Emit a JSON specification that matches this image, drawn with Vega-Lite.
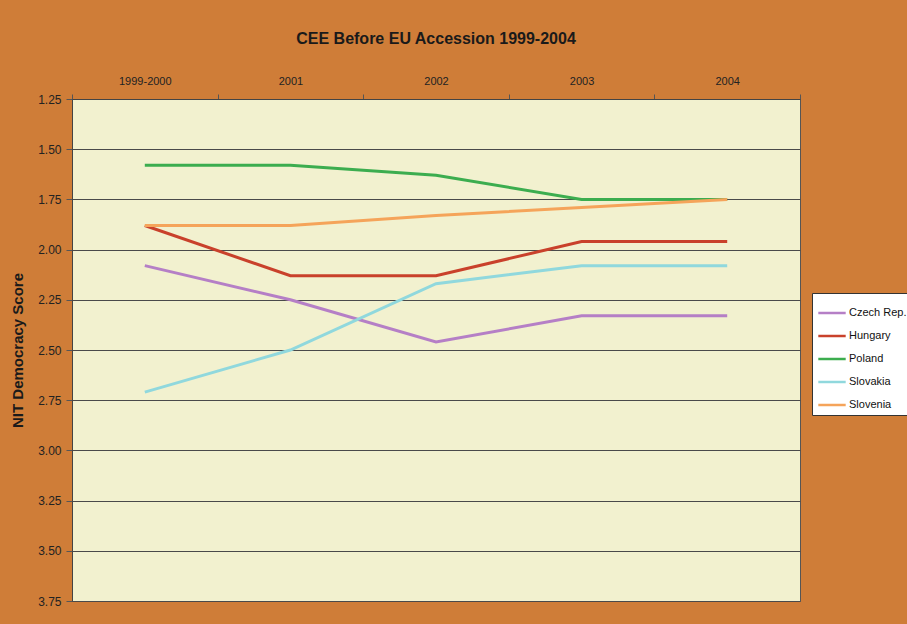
{
  "$schema": "https://vega.github.io/schema/vega-lite/v6.json",
  "width": 728,
  "height": 502,
  "autosize": {"type": "none"},
  "padding": {"left": 72, "top": 99, "right": 107, "bottom": 23},
  "background": "#cf7d38",
  "title": {
    "text": "CEE Before EU Accession 1999-2004",
    "font": "Arial",
    "fontSize": 16,
    "fontWeight": "bold",
    "color": "#1a1a1a",
    "offset": 28,
    "anchor": "middle"
  },
  "config": {
    "view": {"fill": "#f2f1cf", "stroke": "#555555", "strokeWidth": 1},
    "font": "Arial"
  },
  "data": {
    "values": [
      {"period": "1999-2000", "country": "Czech Rep.", "score": 2.08},
      {"period": "2001", "country": "Czech Rep.", "score": 2.25},
      {"period": "2002", "country": "Czech Rep.", "score": 2.46},
      {"period": "2003", "country": "Czech Rep.", "score": 2.33},
      {"period": "2004", "country": "Czech Rep.", "score": 2.33},
      {"period": "1999-2000", "country": "Hungary", "score": 1.88},
      {"period": "2001", "country": "Hungary", "score": 2.13},
      {"period": "2002", "country": "Hungary", "score": 2.13},
      {"period": "2003", "country": "Hungary", "score": 1.96},
      {"period": "2004", "country": "Hungary", "score": 1.96},
      {"period": "1999-2000", "country": "Poland", "score": 1.58},
      {"period": "2001", "country": "Poland", "score": 1.58},
      {"period": "2002", "country": "Poland", "score": 1.63},
      {"period": "2003", "country": "Poland", "score": 1.75},
      {"period": "2004", "country": "Poland", "score": 1.75},
      {"period": "1999-2000", "country": "Slovakia", "score": 2.71},
      {"period": "2001", "country": "Slovakia", "score": 2.5},
      {"period": "2002", "country": "Slovakia", "score": 2.17},
      {"period": "2003", "country": "Slovakia", "score": 2.08},
      {"period": "2004", "country": "Slovakia", "score": 2.08},
      {"period": "1999-2000", "country": "Slovenia", "score": 1.88},
      {"period": "2001", "country": "Slovenia", "score": 1.88},
      {"period": "2002", "country": "Slovenia", "score": 1.83},
      {"period": "2003", "country": "Slovenia", "score": 1.79},
      {"period": "2004", "country": "Slovenia", "score": 1.75}
    ]
  },
  "mark": {"type": "line", "strokeWidth": 3, "clip": true},
  "encoding": {
    "x": {
      "field": "period",
      "type": "ordinal",
      "bandPosition": 0.5,
      "scale": {"type": "band", "paddingInner": 0, "paddingOuter": 0},
      "axis": {
        "orient": "top",
        "title": null,
        "labelAngle": 0,
        "labelFont": "Arial",
        "labelFontSize": 11,
        "labelColor": "#222222",
        "labelPadding": 8,
        "tickBand": "extent",
        "tickColor": "#555555",
        "tickSize": 5,
        "domainColor": "#444444",
        "grid": false
      }
    },
    "y": {
      "field": "score",
      "type": "quantitative",
      "scale": {"domain": [1.25, 3.75], "reverse": true, "nice": false, "zero": false},
      "axis": {
        "values": [1.25, 1.5, 1.75, 2.0, 2.25, 2.5, 2.75, 3.0, 3.25, 3.5, 3.75],
        "format": ".2f",
        "title": "NIT Democracy Score",
        "titleFont": "Arial",
        "titleFontSize": 15,
        "titleFontWeight": "bold",
        "titleColor": "#1a1a1a",
        "titlePadding": 12,
        "labelFont": "Arial",
        "labelFontSize": 12,
        "labelColor": "#222222",
        "labelPadding": 5,
        "tickColor": "#555555",
        "tickSize": 6,
        "domainColor": "#444444",
        "grid": true,
        "gridColor": "#4a4a4a",
        "gridWidth": 1
      }
    },
    "color": {
      "field": "country",
      "type": "nominal",
      "scale": {
        "domain": ["Czech Rep.", "Hungary", "Poland", "Slovakia", "Slovenia"],
        "range": ["#b57fc6", "#c9412b", "#3cad4f", "#90d8dd", "#f5a45a"]
      },
      "legend": {
        "title": null,
        "orient": "none",
        "legendX": 740,
        "legendY": 194,
        "fillColor": "#ffffff",
        "strokeColor": "#333333",
        "padding": 5,
        "symbolType": "stroke",
        "symbolSize": 750,
        "symbolStrokeWidth": 2.5,
        "labelFont": "Arial",
        "labelFontSize": 11,
        "labelColor": "#111111",
        "labelOffset": 2,
        "rowPadding": 3
      }
    }
  }
}
